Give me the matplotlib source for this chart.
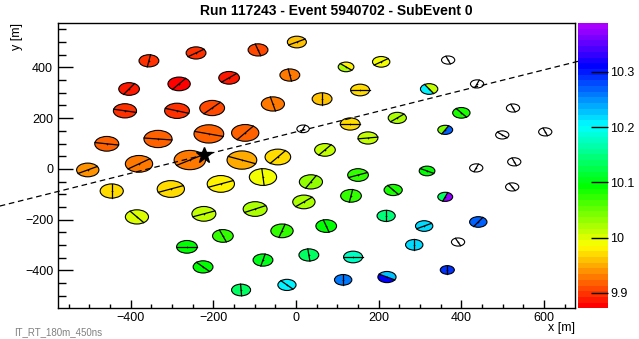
import colorsys
import numpy as np
import matplotlib
matplotlib.use('Agg')
import matplotlib.pyplot as plt
from matplotlib.patches import Circle, Wedge
from matplotlib.colors import ListedColormap, Normalize
from matplotlib.cm import ScalarMappable
from matplotlib.ticker import MultipleLocator

plt.rcParams['font.family'] = ['Liberation Sans', 'DejaVu Sans']

# station centres [m], drawn radius [m]
st_x = [2, -92, -242, -356, -404, -283, -162, -15, 121, 206,
        368, -414, -288, -203, -56, 63, 155, 322, 438, 525,
        603, -458, -334, -211, -123, 17, 131, 174, 245, 400,
        361, 499, -504, -380, -257, -131, -44, 70, 528, 436,
        317, 150, 36, 235, 523, -80, -446, -303, -182, 133,
        361, 19, -99, -223, -385, 218, 73, -34, -177, 310,
        441, -264, 286, 392, -80, 31, 138, -225, 366, 114,
        220, -22, -133]
st_y = [500, 469, 457, 426, 315, 335, 359, 370, 402, 422,
        429, 229, 229, 240, 256, 276, 311, 315, 335, 240,
        146, 99, 118, 138, 142, 158, 177, 122, 201, 221,
        154, 134, -4, 20, 35, 35, 47, 75, 28, 4,
        -8, -24, -51, -83, -71, -32, -87, -79, -59, -106,
        -110, -130, -158, -177, -189, -185, -225, -244, -264, -225,
        -209, -307, -299, -288, -359, -339, -347, -386, -398, -437,
        -426, -457, -477]
st_r = [23, 24, 24, 24, 25, 27, 25, 24, 19, 21,
        16, 28, 30, 30, 28, 24, 23, 21, 16, 16,
        16, 29, 34, 36, 33, 15, 24, 24, 22, 21,
        18, 16, 27, 33, 38, 36, 31, 25, 16, 16,
        19, 25, 28, 22, 16, 33, 28, 33, 33, 25,
        18, 27, 29, 29, 28, 22, 25, 27, 25, 21,
        21, 25, 21, 16, 24, 24, 23, 24, 17, 21,
        22, 22, 23]
nan = float('nan')
# value of tank A / tank B (nan = no hit)
val_a = [9.96, 9.905, 9.898, 9.898, 9.883, 9.878, 9.887, 9.924, 9.983, 9.986,
         nan, 9.9, 9.901, 9.905, 9.924, 9.955, 9.973, 10.01, nan, nan,
         nan, 9.918, 9.918, 9.918, 9.922, nan, 9.973, 10.01, 10.02, 10.084,
         10.038, nan, 9.942, 9.927, 9.924, 9.946, 9.975, 10.016, nan, nan,
         10.093, 10.075, 10.029, 10.084, nan, 9.986, 9.968, 9.973, 9.979, 10.075,
         10.139, 10.023, 10.02, 10.016, 10.005, 10.148, 10.09, 10.075, 10.078, 10.213,
         10.268, 10.093, 10.213, nan, 10.102, 10.139, 10.176, 10.09, 10.292, 10.263,
         10.231, 10.204, 10.139]
val_b = list(val_a)
val_b[8] = 10.02
val_b[17] = 10.207
val_b[30] = 10.268
val_b[50] = 10.37
val_b[70] = 10.314
# direction of the tank-tank line on screen [deg]
line_ang = [20, 115, 25, 75, 45, 40, 30, 105, -30, 25,
            120, -8, -12, 35, 110, 90, 0, -45, 60, 120,
            120, -6, -4, -10, 40, 60, 0, 5, 30, -40,
            50, 150, 20, 25, 22, -15, 40, 40, 120, 60,
            -20, 15, 50, -40, 130, 98, 90, 15, 15, 75,
            60, 30, 18, 15, -40, 90, 115, 65, 120, 20,
            45, 0, 90, 125, 70, 100, 0, -35, 90, 90,
            -20, -35, 95]

core_x, core_y = -223, 55
axis_x = [-717, 705]
axis_slope = 0.4075

cb_ticks = [9.9, 10.0, 10.1, 10.2, 10.3]
cb_labels = ['9.9', '10', '10.1', '10.2', '10.3']
vmin, vmax = 9.872, 10.388

# ROOT-like pretty palette
hues = np.linspace(0, 280, 50)
cmap = ListedColormap([colorsys.hls_to_rgb(h / 360, 0.5, 1.0) for h in hues])
norm = Normalize(vmin, vmax)

fig = plt.figure(figsize=(6.39, 3.39), dpi=100)
ax = fig.add_axes([58 / 639, 1 - 307.5 / 339, 517 / 639, 284.5 / 339])
ax.set_xlim(-576, 675)
ax.set_ylim(-546, 575)

sx = ax.bbox.width / 1251
sy = ax.bbox.height / 1121

for i in range(len(st_x)):
    x, y, r = st_x[i], st_y[i], st_r[i]
    phi = np.radians(line_ang[i])
    th = np.degrees(np.arctan2(np.sin(phi) / sy, np.cos(phi) / sx))
    a, b = val_a[i], val_b[i]
    if np.isnan(a):
        ax.add_patch(Circle((x, y), r, facecolor='white', edgecolor='black', lw=0.8, zorder=2))
    elif a == b:
        ax.add_patch(Circle((x, y), r, facecolor=cmap(norm(a)), edgecolor='black', lw=0.8, zorder=2))
    else:
        ax.add_patch(Wedge((x, y), r, th, th + 180, facecolor=cmap(norm(a)), edgecolor='none', zorder=2))
        ax.add_patch(Wedge((x, y), r, th + 180, th + 360, facecolor=cmap(norm(b)), edgecolor='none', zorder=2))
        ax.add_patch(Circle((x, y), r, facecolor='none', edgecolor='black', lw=0.8, zorder=2))
    t = np.radians(th)
    ax.plot([x - r * np.cos(t), x + r * np.cos(t)], [y - r * np.sin(t), y + r * np.sin(t)],
            color='black', lw=0.9, zorder=2.5)
    ax.plot(x, y, marker='+', ms=2, mew=0.4, color='black', zorder=2.5)

# shower axis and core
ax_y = [core_y + axis_slope * (v - core_x) for v in axis_x]
ax.plot(axis_x, ax_y, color='black', lw=0.9, dashes=(4.5, 3), clip_on=False, zorder=3)
ax.plot(core_x, core_y, marker='*', ms=12, color='black', zorder=4)

ax.set_xticks([-400, -200, 0, 200, 400, 600])
ax.set_yticks([-400, -200, 0, 200, 400])
ax.xaxis.set_minor_locator(MultipleLocator(50))
ax.yaxis.set_minor_locator(MultipleLocator(50))
ax.tick_params(axis='x', which='major', direction='in', length=6, width=1, labelsize=9, pad=3)
ax.tick_params(axis='x', which='minor', direction='in', length=3, width=1)
ax.tick_params(axis='y', which='major', direction='in', length=11, width=1, labelsize=9, pad=3.5)
ax.tick_params(axis='y', which='minor', direction='in', length=5.5, width=1)
ax.tick_params(which='both', top=False, right=False)
for s in ax.spines.values():
    s.set_linewidth(1)

ax.set_xlabel('x [m]', loc='right', fontsize=9)
ax.xaxis.set_label_coords(1.0, -0.052)
ax.set_ylabel('y [m]', loc='top', fontsize=9)
ax.yaxis.set_label_coords(-0.068, 1.0)

cax = fig.add_axes([577.5 / 639, 1 - 308.3 / 339, 30 / 639, 285 / 339])
cb = fig.colorbar(ScalarMappable(norm=norm, cmap=cmap), cax=cax)
cb.outline.set_visible(False)
cb.set_ticks(cb_ticks)
cb.set_ticklabels(cb_labels)
cax.minorticks_off()
cax.tick_params(direction='in', length=12, width=1, labelsize=9, pad=2)

fig.text(336 / 639, 1 - 11 / 339, 'Run 117243 - Event 5940702 - SubEvent 0',
         ha='center', va='center', fontsize=10, fontweight='bold')
fig.text(14 / 639, 1 - 332 / 339, 'IT_RT_180m_450ns', color='#808080', fontsize=7, va='center')

fig.savefig('out.png', dpi=100)
